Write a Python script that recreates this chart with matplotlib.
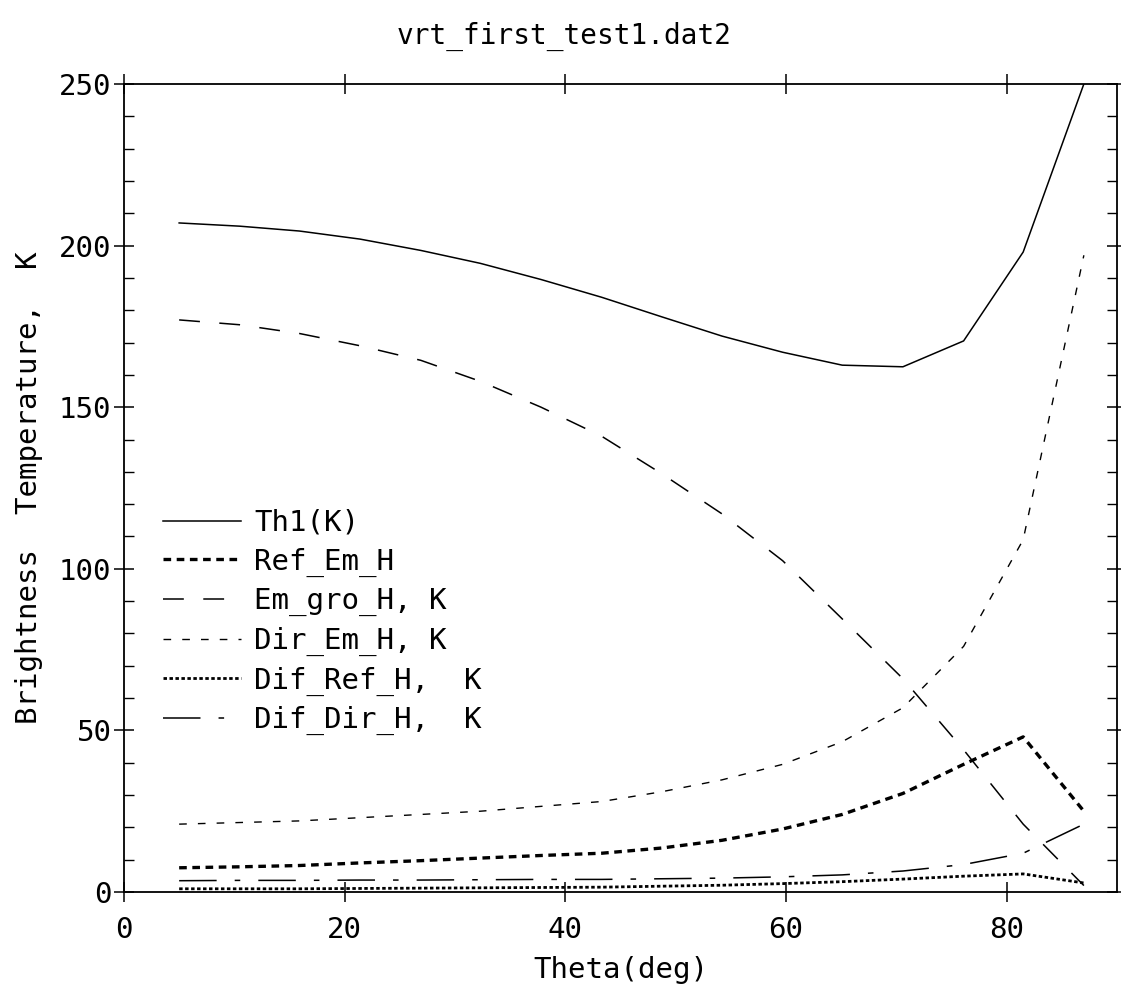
import numpy as np
import matplotlib
matplotlib.use("Agg")
import matplotlib.pyplot as plt
from matplotlib.ticker import MultipleLocator

plt.rcParams['font.family'] = ['DejaVu Sans Mono', 'DejaVu Sans']
plt.rcParams['lines.scale_dashes'] = False

# viewing angle, deg
theta = [5.0, 10.5, 15.9, 21.4, 26.9, 32.3, 37.8, 43.3, 48.7, 54.2,
         59.7, 65.1, 70.6, 76.1, 81.5, 87.0]

th1 = [207, 206, 204.5, 202, 198.5, 194.5, 189.5, 184, 178, 172,
       167, 163, 162.5, 170.5, 198, 250]
ref_em = [7.5, 7.8, 8.2, 9.0, 9.7, 10.5, 11.3, 12.0, 13.6, 16.0,
          19.5, 24.0, 30.5, 39.5, 48.0, 25.0]
em_gro = [177, 175.5, 172.8, 169, 164.5, 158, 150, 141, 129.5, 117,
          102.5, 84.5, 66, 44, 21, 2]
dir_em = [21, 21.5, 22, 23, 24, 25, 26.5, 28, 31, 34.7,
          39.5, 46.5, 57, 76, 109, 197]
dif_ref = [1.0, 1.0, 1.0, 1.1, 1.2, 1.3, 1.4, 1.5, 1.8, 2.1,
           2.6, 3.2, 4.0, 4.9, 5.6, 2.8]
dif_dir = [3.5, 3.6, 3.6, 3.7, 3.7, 3.8, 3.9, 3.9, 4.1, 4.3,
           4.7, 5.3, 6.5, 8.5, 12.0, 21.0]

labels = ["Th1(K)", "Ref_Em_H", "Em_gro_H, K", "Dir_Em_H, K",
          "Dif_Ref_H,  K", "Dif_Dir_H,  K"]

fig = plt.figure(figsize=(11.21, 9.96), dpi=100)
ax = fig.add_axes([0.1106, 0.1044, 0.8858, 0.8113])

ax.plot(theta, th1, color="black", lw=1.1, label=labels[0])
ax.plot(theta, ref_em, color="black", lw=2.4, dashes=(5.5, 4), label=labels[1])
ax.plot(theta, em_gro, color="black", lw=1.1, dashes=(15, 14), label=labels[2])
ax.plot(theta, dir_em, color="black", lw=1.0, dashes=(5.5, 8), label=labels[3])
ax.plot(theta, dif_ref, color="black", lw=2.0, dashes=(2.5, 1.8), label=labels[4])
ax.plot(theta, dif_dir, color="black", lw=1.1, dashes=(27, 13, 4, 13), label=labels[5])

ax.set_xlim(0, 90)
ax.set_ylim(0, 250)
ax.set_xticks([0, 20, 40, 60, 80])
ax.yaxis.set_major_locator(MultipleLocator(50))
ax.yaxis.set_minor_locator(MultipleLocator(10))

for s in ax.spines.values():
    s.set_linewidth(1.3)

ax.tick_params(which="major", direction="inout", length=14, width=1.1,
               top=True, right=True, labelsize=21)
ax.tick_params(axis="x", which="major", pad=10)
ax.tick_params(axis="y", which="major", pad=2)
ax.tick_params(axis="y", which="minor", direction="in", length=7, width=1.0,
               left=True, right=True)

ax.set_xlabel("Theta(deg)", fontsize=21)
ax.xaxis.label.set_va("center")
ax.xaxis.set_label_coords(0.5, -0.0965)
ax.set_ylabel("Brightness  Temperature,  K", fontsize=21)
ax.yaxis.label.set_va("center")
ax.yaxis.set_label_coords(-0.0957, 0.5)

fig.suptitle("vrt_first_test1.dat2", x=564 / 1121, y=1 - 36 / 996,
             va="center", fontsize=20)

ax.legend(loc="upper left", bbox_to_anchor=(0.039, 0.474), frameon=False,
          fontsize=21, handlelength=2.7, handletextpad=0.43,
          labelspacing=0.36, borderpad=0, borderaxespad=0)

fig.savefig("out.png", dpi=100)
